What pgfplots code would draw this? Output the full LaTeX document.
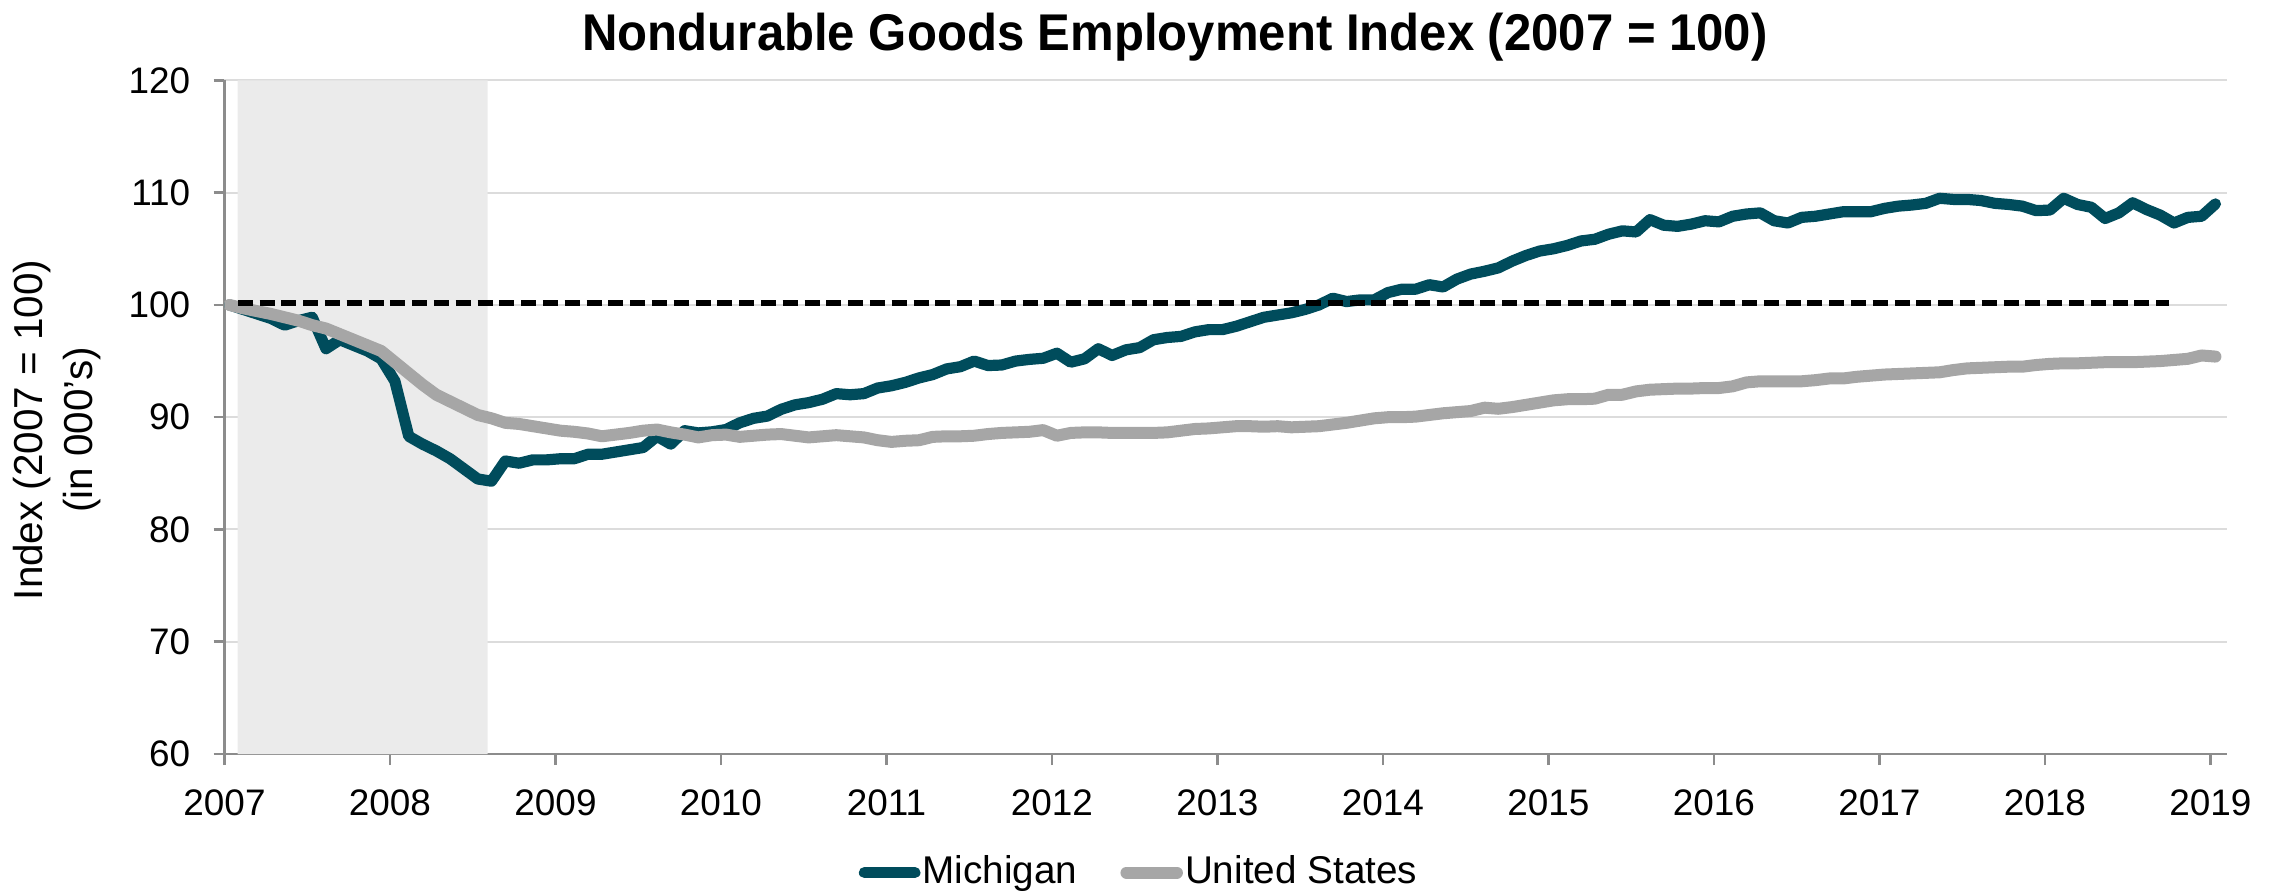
\documentclass[border=0pt]{standalone}
\usepackage{pgfplots}
\pgfplotsset{compat=1.18}
\usepackage{pgfplotstable}
\usepackage{fontspec}
\setmainfont{Liberation Sans}
\newfontfamily\titlefont{Liberation Sans}[FakeStretch=0.95]

\definecolor{michigan}{RGB}{0,76,92}
\definecolor{usgray}{RGB}{166,166,166}
\definecolor{recess}{RGB}{235,235,235}
\definecolor{gridgray}{RGB}{220,220,220}
\definecolor{axisgray}{RGB}{140,140,140}

% monthly index, k = months since Jan 2007
\pgfplotstableread{
k mi us
0 100.0 100.0
1 99.6 99.7
2 99.2 99.45
3 98.8 99.2
4 98.2 98.9
5 98.6 98.6
6 98.9 98.2
7 96.1 97.9
8 96.9 97.4
9 96.4 96.9
10 95.9 96.4
11 95.2 95.9
12 93.2 94.9
13 88.3 93.9
14 87.6 92.9
15 87.0 92.0
16 86.3 91.4
17 85.4 90.8
18 84.5 90.2
19 84.3 89.9
20 86.1 89.5
21 85.9 89.4
22 86.2 89.2
23 86.2 89.0
24 86.3 88.8
25 86.3 88.7
26 86.7 88.55
27 86.7 88.3
28 86.9 88.45
29 87.1 88.6
30 87.3 88.8
31 88.3 88.9
32 87.6 88.65
33 88.8 88.45
34 88.6 88.2
35 88.7 88.4
36 88.9 88.45
37 89.5 88.25
38 89.9 88.35
39 90.1 88.45
40 90.7 88.5
41 91.1 88.35
42 91.3 88.2
43 91.6 88.3
44 92.1 88.4
45 92.0 88.3
46 92.1 88.2
47 92.6 87.95
48 92.8 87.8
49 93.1 87.9
50 93.5 87.95
51 93.8 88.25
52 94.3 88.3
53 94.5 88.3
54 95.0 88.35
55 94.6 88.5
56 94.65 88.6
57 95.0 88.65
58 95.15 88.7
59 95.25 88.85
60 95.7 88.35
61 94.9 88.6
62 95.2 88.65
63 96.1 88.65
64 95.5 88.6
65 96.0 88.6
66 96.2 88.6
67 96.9 88.6
68 97.1 88.65
69 97.2 88.8
70 97.6 88.95
71 97.8 89.0
72 97.8 89.1
73 98.1 89.2
74 98.5 89.2
75 98.9 89.15
76 99.1 89.2
77 99.3 89.1
78 99.6 89.15
79 100.0 89.2
80 100.6 89.35
81 100.3 89.5
82 100.45 89.7
83 100.45 89.9
84 101.1 90.0
85 101.4 90.0
86 101.4 90.05
87 101.8 90.2
88 101.6 90.35
89 102.3 90.45
90 102.75 90.55
91 103.0 90.85
92 103.3 90.75
93 103.9 90.9
94 104.4 91.1
95 104.8 91.3
96 105.0 91.5
97 105.3 91.6
98 105.7 91.6
99 105.85 91.65
100 106.3 92.0
101 106.6 92.0
102 106.5 92.3
103 107.6 92.45
104 107.1 92.5
105 107.0 92.55
106 107.2 92.55
107 107.5 92.6
108 107.4 92.6
109 107.9 92.75
110 108.1 93.1
111 108.2 93.2
112 107.5 93.2
113 107.3 93.2
114 107.8 93.2
115 107.9 93.3
116 108.1 93.45
117 108.3 93.45
118 108.3 93.6
119 108.3 93.7
120 108.6 93.8
121 108.8 93.85
122 108.9 93.9
123 109.05 93.95
124 109.5 94.0
125 109.4 94.2
126 109.4 94.35
127 109.3 94.4
128 109.05 94.45
129 108.95 94.5
130 108.8 94.5
131 108.4 94.65
132 108.45 94.75
133 109.5 94.8
134 108.95 94.8
135 108.7 94.85
136 107.7 94.9
137 108.2 94.9
138 109.1 94.9
139 108.5 94.95
140 108.0 95.0
141 107.3 95.1
142 107.8 95.2
143 107.9 95.5
144 109.0 95.4
}\idx

\begin{document}
\begin{tikzpicture}
  \begin{axis}[
    scale only axis,
    width=200.25mm, height=67.36mm,
    xmin=2007, xmax=2019.1, ymin=60, ymax=120,
    xtick={2007,2008,...,2019},
    ytick={60,70,...,120},
    xticklabel style={/pgf/number format/1000 sep={}, yshift=-1.2mm},
    yticklabel style={xshift=-1.1mm},
    /pgf/number format/assume math mode=true,
    tick label style={font=\fontsize{10.5}{12}\selectfont},
    axis x line*=bottom, axis y line*=left,
    axis line style={-, draw=axisgray, line width=0.25mm},
    tick align=outside, major tick length=1.1mm,
    tick style={draw=axisgray, line width=0.25mm},
    ymajorgrids, grid style={draw=gridgray, line width=0.2mm},
    every axis title shift=0pt,
    title={Nondurable Goods Employment Index (2007 = 100)},
    title style={font=\titlefont\bfseries\fontsize{14.7}{16}\selectfont,
      at={(0.4747,1.0451)}, anchor=base, inner sep=0pt},
    ylabel={Index (2007 = 100)\\(in 000’s)},
    ylabel style={align=center, font=\fontsize{11.5}{14}\selectfont,
      at={(axis description cs:-0.0836,0.481)}, anchor=center, rotate=0},
    legend columns=2,
    legend style={draw=none, fill=none, at={(0.3164,-0.176)}, anchor=west,
      inner sep=0pt, font=\fontsize{11}{13}\selectfont,
      nodes={inner sep=0.6pt},
      /tikz/every even column/.append style={column sep=4.1mm}},
    legend image code/.code={\draw[#1, line cap=round] (0.55mm,0mm) -- (5.6mm,0mm);},
    ]
    \addplot[draw=none, fill=recess, forget plot]
      coordinates {(2007.08,60) (2007.08,120) (2008.59,120) (2008.59,60)} \closedcycle;
    \addplot[michigan, line width=1.12mm, line join=round, line cap=round]
      table[x expr=2007.03+\thisrow{k}/12, y=mi] {\idx};
    \addlegendentry{Michigan}
    \addplot[usgray, line width=1.2mm, line join=round, line cap=round]
      table[x expr=2007.03+\thisrow{k}/12, y=us] {\idx};
    \addlegendentry{United States}
    \addplot[black, line width=0.58mm, dash pattern=on 1.5mm off 0.68mm, forget plot]
      coordinates {(2007.08,100.2) (2018.75,100.2)};
  \end{axis}
  \pgfresetboundingbox
  \path[use as bounding box] (-22.45mm,-13.7mm) rectangle (206.75mm,75.4mm);
\end{tikzpicture}
\end{document}
